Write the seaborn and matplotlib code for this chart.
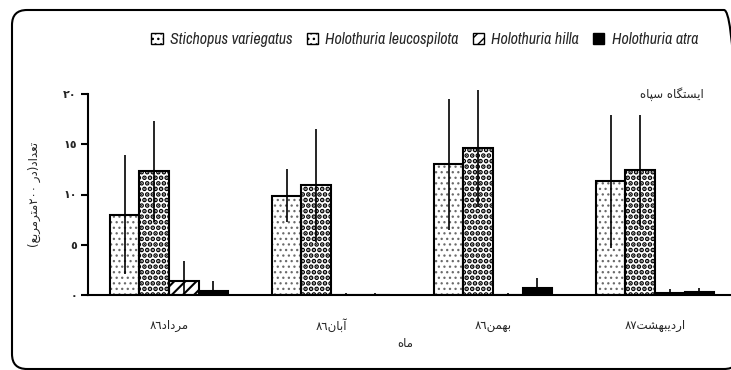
import re
import numpy as np
import pandas as pd
import matplotlib
matplotlib.use("Agg")
import matplotlib.pyplot as plt
from matplotlib.patches import Rectangle, FancyBboxPatch
from matplotlib.transforms import IdentityTransform
import seaborn as sns

# ---- data -------------------------------------------------------------
months = ["مرداد٨٦", "آبان٨٦", "بهمن٨٦", "اردیبهشت٨٧"]
species = ["Stichopus variegatus", "Holothuria leucospilota",
           "Holothuria hilla", "Holothuria atra"]

mean_sv = [8.0, 9.9, 13.0, 11.3]
mean_hl = [12.3, 10.9, 14.6, 12.4]
mean_hh = [1.4, 0.0, 0.0, 0.2]
mean_ha = [0.4, 0.0, 0.7, 0.3]

err_sv = [5.9, 2.6, 6.5, 6.6]
err_hl = [5.0, 5.6, 5.8, 5.5]
err_hh = [2.0, 0.2, 0.2, 0.4]
err_ha = [1.0, 0.2, 1.0, 0.4]

y_ticks = [0, 5, 10, 15, 20]
y_tick_labels = ["٠", "٥", "١٠", "١٥", "٢٠"]
y_title = "تعداد(در ٢٠٠مترمربع)"
x_title = "ماه"
station = "ایستگاه سپاه"

# ---- minimal Persian shaping (presentation forms + visual order) -------
FORMS = {
    "ا": ("\uFE8D", "\uFE8E", None, None),
    "آ": ("\uFE81", "\uFE82", None, None),
    "د": ("\uFEA9", "\uFEAA", None, None),
    "ر": ("\uFEAD", "\uFEAE", None, None),
    "ب": ("\uFE8F", "\uFE90", "\uFE91", "\uFE92"),
    "ت": ("\uFE95", "\uFE96", "\uFE97", "\uFE98"),
    "س": ("\uFEB1", "\uFEB2", "\uFEB3", "\uFEB4"),
    "ش": ("\uFEB5", "\uFEB6", "\uFEB7", "\uFEB8"),
    "ع": ("\uFEC9", "\uFECA", "\uFECB", "\uFECC"),
    "م": ("\uFEE1", "\uFEE2", "\uFEE3", "\uFEE4"),
    "ن": ("\uFEE5", "\uFEE6", "\uFEE7", "\uFEE8"),
    "ه": ("\uFEE9", "\uFEEA", "\uFEEB", "\uFEEC"),
    "پ": ("\uFB56", "\uFB57", "\uFB58", "\uFB59"),
    "گ": ("\uFB92", "\uFB93", "\uFB94", "\uFB95"),
    "ی": ("\uFBFC", "\uFBFD", "\uFBFE", "\uFBFF"),
}
RIGHT_ONLY = set("اآدر")
DIGITS = "0-9\u0660-\u0669\u06F0-\u06F9"


def join_forms(word):
    out = []
    for i, ch in enumerate(word):
        if ch not in FORMS:
            out.append(ch)
            continue
        prev = word[i - 1] if i > 0 else None
        nxt = word[i + 1] if i + 1 < len(word) else None
        jp = prev in FORMS and prev not in RIGHT_ONLY
        jn = nxt in FORMS and ch not in RIGHT_ONLY
        iso, fin, ini, med = FORMS[ch]
        out.append(med if (jp and jn) else fin if jp else ini if jn else iso)
    return "".join(out)


def visual(text):
    """Right-to-left paragraph: shaped letters, digit runs kept left-to-right."""
    runs = re.findall(f"[{DIGITS}]+|[^{DIGITS}]+", text)
    out = []
    for r in runs:
        if re.fullmatch(f"[{DIGITS}]+", r):
            out.append(r)
        else:
            s = join_forms(r).translate(str.maketrans("()", ")("))
            out.append(s[::-1])
    return "".join(out[::-1])


# ---- long-form table --------------------------------------------------
means = [mean_sv, mean_hl, mean_hh, mean_ha]
errs = [err_sv, err_hl, err_hh, err_ha]
month_vis = [visual(m) for m in months]
df = pd.DataFrame({
    "month": np.repeat([month_vis], len(species), axis=0).ravel(),
    "species": np.repeat(species, len(months)),
    "count": np.concatenate(means),
})

# ---- style ------------------------------------------------------------
sns.set_style("white")
plt.rcParams["font.family"] = ["DejaVu Sans"]
plt.rcParams["hatch.linewidth"] = 1.0

fig = plt.figure(figsize=(7.31, 3.70), dpi=100)
W, H = 731, 370
ax = fig.add_axes([88 / W, 1 - 295 / H, 648 / W, 201 / H])

palette = {species[0]: "white", species[1]: "white",
           species[2]: "white", species[3]: "black"}
sns.barplot(data=df, x="month", y="count", hue="species",
            order=month_vis, hue_order=species, palette=palette,
            saturation=1, width=0.73, errorbar=None,
            edgecolor="black", linewidth=1.5, legend=False, ax=ax)

hatches = ["...", "...", "///", None]
hatch_colors = ["#6a6a6a", "black", "black", "black"]
hatch_widths = [0.9, 2.4, 1.5, 1.0]

for cont, hatch, hc, hw, err in zip(ax.containers, hatches, hatch_colors,
                                    hatch_widths, errs):
    xs, hs = [], []
    for p in cont.patches:
        xs.append(p.get_x() + p.get_width() / 2)
        hs.append(p.get_height())
        if hatch:
            p.set_hatch(hatch)
            p.set_edgecolor(hc)
            p.set_linewidth(0)
            if hasattr(p, "set_hatch_linewidth"):
                p.set_hatch_linewidth(hw)
            outline = Rectangle(p.get_xy(), p.get_width(), p.get_height(),
                                fill=False, edgecolor="black", linewidth=1.5,
                                zorder=p.get_zorder() + 0.1)
            ax.add_patch(outline)
    hs = np.array(hs)
    err = np.array(err)
    # the lower whisker stops at the baseline
    yerr = np.vstack([np.minimum(err, hs), err])
    ax.errorbar(xs, hs, yerr=yerr, fmt="none", ecolor="black",
                elinewidth=1.2, capsize=0, clip_on=False, zorder=5)

# ---- axes -------------------------------------------------------------
ax.set_xlim(-0.5, 3.5)
ax.set_ylim(0, 20)
ax.set_yticks(y_ticks)
ax.set_yticklabels(y_tick_labels, fontsize=8, fontweight="bold")
ax.set_xticks(range(len(months)))
ax.set_xticklabels(month_vis, fontsize=8.5)
ax.set_xticks(np.arange(-0.5, len(months), 1.0), minor=True)
ax.tick_params(axis="x", which="major", length=0, pad=17)
ax.tick_params(axis="x", which="minor", length=6, width=1.5,
               direction="out", color="black")
ax.tick_params(axis="y", length=5, width=1.5, direction="out",
               color="black", pad=3, left=True)
for side in ("top", "right"):
    ax.spines[side].set_visible(False)
for side in ("left", "bottom"):
    ax.spines[side].set_linewidth(1.5)
    ax.spines[side].set_color("black")

ax.set_xlabel(visual(x_title), fontsize=8.5, labelpad=0)
ax.xaxis.set_label_coords(0.489, -0.21)
ax.set_ylabel(visual(y_title), fontsize=8.5)
ax.yaxis.set_label_coords(-0.072, 0.5)

ax.text(0.901, 1.0, visual(station), transform=ax.transAxes,
        ha="center", va="center", fontsize=8.5)

# ---- legend -----------------------------------------------------------
handles = []
for sp, hatch in zip(species, hatches):
    handles.append(Rectangle((0, 0), 1, 1, facecolor=palette[sp],
                             edgecolor="black", linewidth=1.0,
                             hatch=hatch))
legend_font = {"family": ["Liberation Sans Narrow", "Arial Narrow",
                          "Archivo Narrow", "Roboto Condensed",
                          "Sofia Sans Condensed", "Liberation Sans"],
               "style": "italic", "size": 11.5}
fig.legend(handles, species, loc="center",
           bbox_to_anchor=(0.581, 0.892), ncol=4, frameon=False,
           handlelength=0.7, handleheight=0.7, handletextpad=0.45,
           columnspacing=0.9, prop=legend_font)

# ---- rounded chart border --------------------------------------------
border = FancyBboxPatch((12, 1), 727, 359,
                        boxstyle="round,pad=0,rounding_size=15",
                        transform=IdentityTransform(), fill=False,
                        edgecolor="black", linewidth=1.5, clip_on=False)
fig.add_artist(border)

fig.savefig("out.png", dpi=100)
